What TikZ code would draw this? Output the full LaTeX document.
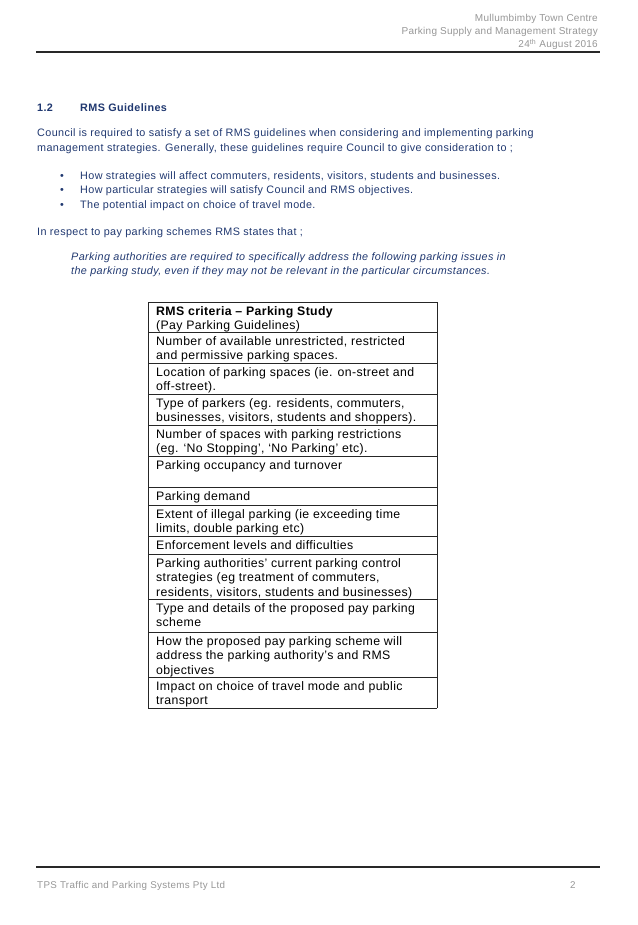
\documentclass[tikz,border=0pt]{standalone}
\usepackage{fontspec}
\setmainfont{Liberation Sans}
\newfontfamily\bodyff[LetterSpace=3.5]{Liberation Sans}
\newfontfamily\cellff[LetterSpace=3]{Liberation Sans}
\newfontfamily\hdff[LetterSpace=2.5]{Liberation Sans}
\usepackage{tikz}
\definecolor{navy}{RGB}{32,56,112}
\definecolor{hdgrey}{RGB}{150,150,150}
\definecolor{rulegrey}{RGB}{40,40,40}
\tikzset{
	body/.style={anchor=base west, inner sep=0pt, text=navy, font=\bodyff\fontsize{10.8}{15}\selectfont},
	hd/.style={anchor=base east, inner sep=0pt, text=hdgrey, font=\hdff\fontsize{10}{13}\selectfont},
	ft/.style={anchor=base west, inner sep=0pt, text=hdgrey, font=\bodyff\fontsize{9.8}{13}\selectfont},
	cell/.style={anchor=base west, inner sep=0pt, font=\cellff\fontsize{12.3}{14.5}\selectfont},
	pagerule/.style={rulegrey, line width=2pt},
	tab/.style={black!85, line width=1pt},
}
\newcommand{\celltext}[1]{\begin{tabular}[t]{@{}l@{}}#1\end{tabular}}

\begin{document}
\begin{tikzpicture}[x=1pt,y=-1pt]
	\useasboundingbox (0,0) rectangle (637,925);

	% header
	\node[hd] (town) at (598,22) {Mullumbimby Town Centre};
	\node[hd] (strategy) at (598,35) {Parking Supply and Management Strategy};
	\node[hd] (date) at (598,48) {24\textsuperscript{th} August 2016};
	\draw[pagerule] (36,52) -- (600,52);

	% section text
	\node[body, font=\bodyff\fontsize{10.8}{15}\bfseries] (secnum) at (37,112) {1.2};
	\node[body, font=\bodyff\fontsize{10.8}{15}\bfseries] (sectitle) at (80,112) {RMS Guidelines};
	\node[body] (para1) at (37,137) {Council is required to satisfy a set of RMS guidelines when considering and implementing parking};
	\node[body] (para2) at (37,152) {management strategies. Generally, these guidelines require Council to give consideration to ;};

	\foreach \y/\txt [count=\i] in {
		180/{How strategies will affect commuters, residents, visitors, students and businesses.},
		194/{How particular strategies will satisfy Council and RMS objectives.},
		209/{The potential impact on choice of travel mode.}}
	{
		\node[body] (dot\i) at (60,\y) {•};
		\node[body] (item\i) at (80,\y) {\txt};
	}

	\node[body] (respect) at (37,236) {In respect to pay parking schemes RMS states that ;};
	\node[body, font=\bodyff\fontsize{10.8}{15}\itshape] (quote1) at (71,260) {Parking authorities are required to specifically address the following parking issues in};
	\node[body, font=\bodyff\fontsize{10.8}{15}\itshape] (quote2) at (71,274) {the parking study, even if they may not be relevant in the particular circumstances.};

	% criteria table
	\foreach \y in {302,332,363,394,425,456,487,505,536,554,599,632,677,708}
		\draw[tab] (148,\y) -- (437,\y);
	\draw[tab] (148,302) -- (148,708);
	\draw[tab] (437,302) -- (437,708);

	\node[cell] (crit0) at (156,315) {\celltext{\textbf{RMS criteria – Parking Study}\\(Pay Parking Guidelines)}};
	\node[cell] (crit1) at (156,345) {\celltext{Number of available unrestricted, restricted\\and permissive parking spaces.}};
	\node[cell] (crit2) at (156,376) {\celltext{Location of parking spaces (ie. on-street and\\off-street).}};
	\node[cell] (crit3) at (156,407) {\celltext{Type of parkers (eg. residents, commuters,\\businesses, visitors, students and shoppers).}};
	\node[cell] (crit4) at (156,438) {\celltext{Number of spaces with parking restrictions\\(eg. ‘No Stopping’, ‘No Parking’ etc).}};
	\node[cell] (crit5) at (156,469) {Parking occupancy and turnover};
	\node[cell] (crit6) at (156,500) {Parking demand};
	\node[cell] (crit7) at (156,518) {\celltext{Extent of illegal parking (ie exceeding time\\limits, double parking etc)}};
	\node[cell] (crit8) at (156,549) {Enforcement levels and difficulties};
	\node[cell] (crit9) at (156,567) {\celltext{Parking authorities’ current parking control\\strategies (eg treatment of commuters,\\residents, visitors, students and businesses)}};
	\node[cell] (crit10) at (156,612) {\celltext{Type and details of the proposed pay parking\\scheme}};
	\node[cell] (crit11) at (156,645) {\celltext{How the proposed pay parking scheme will\\address the parking authority’s and RMS\\objectives}};
	\node[cell] (crit12) at (156,690) {\celltext{Impact on choice of travel mode and public\\transport}};

	% footer
	\draw[pagerule] (36,867) -- (600,867);
	\node[ft] (company) at (37,888) {TPS Traffic and Parking Systems Pty Ltd};
	\node[ft] (pageno) at (570,888) {2};
\end{tikzpicture}
\end{document}
